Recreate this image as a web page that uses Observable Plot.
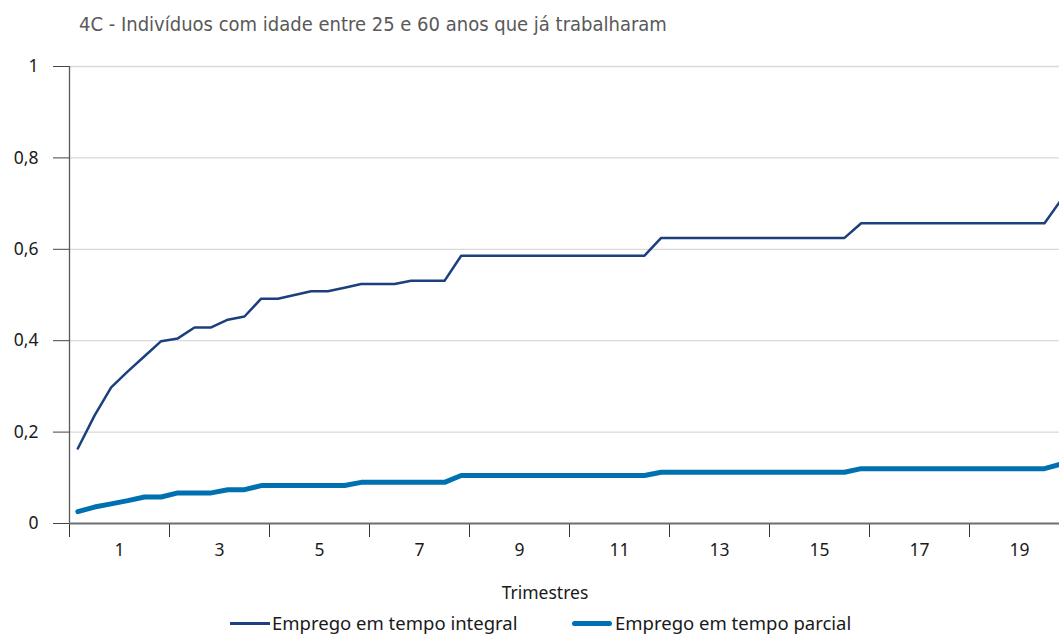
<!DOCTYPE html>
<html><head><meta charset="utf-8">
<script src="https://cdn.jsdelivr.net/npm/d3@7"></script>
<script src="https://cdn.jsdelivr.net/npm/@observablehq/plot@0.6"></script>
<style>
html,body{margin:0;padding:0;background:#fff;overflow:hidden;width:1059px;height:634px;}
#wrap{position:relative;width:1059px;height:634px;overflow:hidden;}
#title{position:absolute;left:79px;top:10px;font-family:"Liberation Sans Narrow","DejaVu Sans Condensed",sans-serif;font-size:20px;color:#595959;white-space:nowrap;line-height:28px;}
#chart{position:absolute;left:0;top:50px;width:1069px;}
#chart svg{max-width:none !important;}
.txt{position:absolute;font-family:"Noto Sans",sans-serif;font-size:17.5px;color:#1a1a1a;white-space:nowrap;line-height:22px;}
.lg{font-size:18.5px;}
.sw{position:absolute;display:block;}
</style></head>
<body><div id="wrap">
<div id="title">4C - Indivíduos com idade entre 25 e 60 anos que já trabalharam</div>
<div id="chart"></div>
<div class="txt" style="left:445px;width:200px;text-align:center;top:581px;">Trimestres</div>
<span class="sw" style="left:230px;top:622px;width:40px;height:2.5px;background:#1c3f7e;"></span>
<div class="txt lg" style="left:272px;top:612px;">Emprego em tempo integral</div>
<span class="sw" style="left:572px;top:620.5px;width:40px;height:5px;border-radius:2.5px;background:#0071b0;"></span>
<div class="txt lg" style="left:615px;top:612px;">Emprego em tempo parcial</div>
</div>
<script>
// Meses (3 por trimestre), 60 observações
const meses = [1,2,3,4,5,6,7,8,9,10,11,12,13,14,15,16,17,18,19,20,21,22,23,24,25,26,27,28,29,30,
  31,32,33,34,35,36,37,38,39,40,41,42,43,44,45,46,47,48,49,50,51,52,53,54,55,56,57,58,59,60];
// Emprego em tempo integral
const integral = [0.164,0.236,0.298,0.333,0.366,0.399,0.405,0.429,0.429,0.446,0.453,0.492,0.492,0.500,0.508,
  0.508,0.516,0.524,0.524,0.524,0.531,0.531,0.531,
  0.586,0.586,0.586,0.586,0.586,0.586,0.586,0.586,0.586,0.586,0.586,0.586,
  0.625,0.625,0.625,0.625,0.625,0.625,0.625,0.625,0.625,0.625,0.625,0.625,
  0.657,0.657,0.657,0.657,0.657,0.657,0.657,0.657,0.657,0.657,0.657,0.657,
  0.708];
// Emprego em tempo parcial
const parcial = [0.026,0.036,0.043,0.050,0.058,0.058,0.067,0.067,0.067,0.074,0.074,
  0.083,0.083,0.083,0.083,0.083,0.083,
  0.090,0.090,0.090,0.090,0.090,0.090,
  0.105,0.105,0.105,0.105,0.105,0.105,0.105,0.105,0.105,0.105,0.105,0.105,
  0.112,0.112,0.112,0.112,0.112,0.112,0.112,0.112,0.112,0.112,0.112,0.112,
  0.120,0.120,0.120,0.120,0.120,0.120,0.120,0.120,0.120,0.120,0.120,0.120,
  0.130];
// Rótulos do eixo x (trimestres) e do eixo y
const trimestres = [1,3,5,7,9,11,13,15,17,19];
const yTicks = [0,0.2,0.4,0.6,0.8,1];

const serieIntegral = meses.map((m,i)=>({mes:m, valor:integral[i]}));
const serieParcial = meses.map((m,i)=>({mes:m, valor:parcial[i]}));

const chart = Plot.plot({
  width: 1069, height: 520,
  marginTop: 16, marginBottom: 47, marginLeft: 69, marginRight: 0,
  style: {fontFamily: "Noto Sans, sans-serif", fontSize: "17.5px", color: "#1a1a1a", background: "transparent", maxWidth: "none"},
  x: {type: "linear", domain: [0, 60]},
  y: {domain: [0, 1]},
  marks: [
    Plot.ruleY(yTicks.filter(d => d > 0), {stroke: "#d9d9d9", strokeWidth: 1.3}),
    Plot.ruleX([0], {y1: 0, y2: 1, stroke: "#595959", strokeWidth: 1.3}),
    Plot.axisY({ticks: yTicks, tickSize: 16, tickPadding: 15, stroke: "#444", label: null,
      tickFormat: d => String(d).replace(".", ",")}),
    Plot.axisX({ticks: trimestres.map(t => 3 * (t - 1)), tickSize: 14, stroke: "#333", label: null, tickFormat: () => ""}),
    Plot.axisX({ticks: trimestres.map(t => 3 * t), tickSize: 0, tickPadding: 20, label: null, tickFormat: d => String(d / 3)}),
    Plot.ruleY([0], {stroke: "#6e6e6e", strokeWidth: 2}),
    Plot.line(serieParcial, {x: d => d.mes - 0.5, y: "valor", stroke: "#0071b0", strokeWidth: 5}),
    Plot.line(serieIntegral, {x: d => d.mes - 0.5, y: "valor", stroke: "#1c3f7e", strokeWidth: 2.5})
  ]
});
document.getElementById("chart").appendChild(chart);
</script>
</body></html>
